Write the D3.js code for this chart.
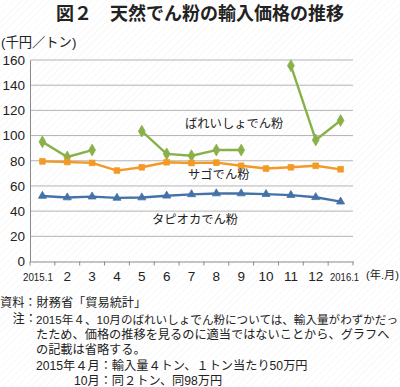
<!DOCTYPE html>
<html><head><meta charset="utf-8">
<script src="https://cdn.jsdelivr.net/npm/d3@7"></script>
<style>
html,body{margin:0;padding:0;background:#fff;}
svg{display:block;font-family:"Liberation Sans","Noto Sans CJK JP",sans-serif;}
</style></head>
<body>
<script>
const categories = ["2015.1","2","3","4","5","6","7","8","9","10","11","12","2016.1"];
const potato = [95, 83, 88.5, null, 103.5, 85.5, 84, 88.5, 88.5, null, 155.5, 96.5, 112];
const sago = [79.5, 79, 78.3, 72.2, 74.8, 78.8, 78.2, 78.5, 76, 73.8, 74.8, 76, 73.2];
const tapioca = [52, 50.8, 51.5, 50.5, 50.8, 52.2, 53.3, 54, 54, 53.5, 52.7, 51, 47.5];
const yTicks = [0, 20, 40, 60, 80, 100, 120, 140, 160];
const title = "図２　天然でん粉の輸入価格の推移";
const unitLabel = "(千円／トン)";
const xUnit = "(年.月)";
const seriesLabels = ["ばれいしょでん粉", "サゴでん粉", "タピオカでん粉"];
const notes = [
  "2015年４、10月のばれいしょでん粉については、輸入量がわずかだっ",
  "たため、価格の推移を見るのに適当ではないことから、グラフへ",
  "の記載は省略する。"
];

const W = 400, H = 387;
const svg = d3.select("body").append("svg").attr("width", W).attr("height", H);

// faint diagonal background pattern
const defs = svg.append("defs");
const pat = defs.append("pattern").attr("id","hatch").attr("width",5).attr("height",5)
  .attr("patternUnits","userSpaceOnUse").attr("patternTransform","rotate(45)");
pat.append("line").attr("x1",0).attr("y1",0).attr("x2",0).attr("y2",5)
  .attr("stroke","#f1f1f1").attr("stroke-width",1);
svg.append("rect").attr("width",W).attr("height",H).attr("fill","#fff");
svg.append("rect").attr("width",W).attr("height",H).attr("fill","url(#hatch)");

const x = d3.scaleBand().domain(categories).range([30, 353]);
const y = d3.scaleLinear().domain([0, 160]).range([261.5, 60]);
const cx = d => x(d) + x.bandwidth()/2;

// title
svg.append("text").attr("x", 200).attr("y", 12).attr("text-anchor","middle")
  .attr("dominant-baseline","central").attr("font-size", 18).attr("font-weight","bold")
  .attr("fill","#222").attr("font-family","Noto Sans CJK JP").text(title);
svg.append("text").attr("x", 1).attr("y", 42).attr("dominant-baseline","central")
  .attr("font-size", 13.3).attr("fill","#222").attr("font-family","Liberation Sans, Noto Sans CJK JP").text(unitLabel);

// gridlines
svg.append("g").selectAll("line").data(yTicks.filter(d => d > 0)).join("line")
  .attr("x1", 30).attr("x2", 353).attr("y1", d => y(d)).attr("y2", d => y(d))
  .attr("stroke", "#b4b4b4").attr("stroke-width", 1);

// y axis
const yAxis = svg.append("g").attr("transform","translate(30,0)")
  .call(d3.axisLeft(y).tickValues(yTicks).tickSize(0).tickPadding(5));
yAxis.select(".domain").attr("stroke","#8a8a8a");
yAxis.selectAll("text").attr("font-size", 13.5).attr("fill","#222")
  .attr("font-family","Liberation Sans");

// x axis
const xAxis = svg.append("g").attr("transform","translate(0,261.5)")
  .call(d3.axisBottom(x).tickSize(0).tickPadding(10));
xAxis.select(".domain").attr("stroke","#8a8a8a");
xAxis.selectAll("text").attr("font-size", 13.5).attr("fill","#222")
  .attr("font-family","Liberation Sans")
  .each(function(d){
    const t = d3.select(this);
    if (d === "2015.1") t.attr("font-size", 11.5).attr("dy", "0.84em").attr("dx", -4.5).attr("textLength", 30).attr("lengthAdjust","spacingAndGlyphs");
    if (d === "2016.1") t.attr("font-size", 11.5).attr("dy", "0.84em").attr("dx", 4).attr("textLength", 29).attr("lengthAdjust","spacingAndGlyphs");
  });
// boundary tick marks
const bounds = categories.map(c => x(c)).concat([x(categories[categories.length-1]) + x.bandwidth()]);
svg.append("g").selectAll("line").data(bounds).join("line")
  .attr("x1", d => d).attr("x2", d => d).attr("y1", 261.5).attr("y2", 265.5)
  .attr("stroke","#8a8a8a");
svg.append("text").attr("x", 366).attr("y", 275).attr("dominant-baseline","central")
  .attr("font-size", 11.2).attr("fill","#222").attr("font-family","Liberation Sans, Noto Sans CJK JP").text(xUnit);

// series
function drawSeries(data, color, shape, size) {
  const pts = categories.map((c, i) => ({c, v: data[i]}));
  const line = d3.line().defined(d => d.v != null).x(d => cx(d.c)).y(d => y(d.v));
  svg.append("path").datum(pts).attr("d", line).attr("fill","none")
    .attr("stroke", color).attr("stroke-width", 2.4).attr("stroke-linejoin","round");
  const sym = d3.symbol().type(shape).size(size);
  svg.append("g").selectAll("path").data(pts.filter(d => d.v != null)).join("path")
    .attr("d", sym)
    .attr("transform", d => `translate(${cx(d.c)},${y(d.v)})`)
    .attr("fill", color).attr("stroke", color).attr("stroke-width", 0.8);
}
drawSeries(potato, "#8ab04a", d3.symbolDiamond, 40);
drawSeries(sago, "#f39a26", d3.symbolSquare, 32);
drawSeries(tapioca, "#4472a8", d3.symbolTriangle, 28);

// series labels
const lab = (t, xx, yy) => svg.append("text").attr("x", xx).attr("y", yy)
  .attr("dominant-baseline","central").attr("font-size", 12.3).attr("fill","#222")
  .attr("font-family","Noto Sans CJK JP").text(t);
lab(seriesLabels[0], 185, 123);
lab(seriesLabels[1], 188, 174);
lab(seriesLabels[2], 152, 219);

// footnotes
const fs = 12.2;
const ft = (t, xx, yy, anchor) => svg.append("text").attr("x", xx).attr("y", yy)
  .attr("dominant-baseline","central").attr("font-size", fs).attr("fill","#222")
  .attr("text-anchor", anchor || "start")
  .attr("font-family", "Liberation Sans, Noto Sans CJK JP").text(t);
ft("資料：財務省「貿易統計」", 0, 303);
ft("注：", 12.5, 319);
ft(notes[0], 36, 319).attr("font-size", 11.6).attr("textLength", 362).attr("lengthAdjust", "spacingAndGlyphs");
ft(notes[1], 36, 334.5);
ft(notes[2], 36, 350);
const l4a = ft("2015年４月", 36, 365.5);
const w = l4a.node().getComputedTextLength();
ft("：輸入量４トン、１トン当たり50万円", 36 + w, 365.5);
ft("10月", 36 + w, 381, "end");
ft("：同２トン、同98万円", 36 + w, 381);
</script>
</body></html>
